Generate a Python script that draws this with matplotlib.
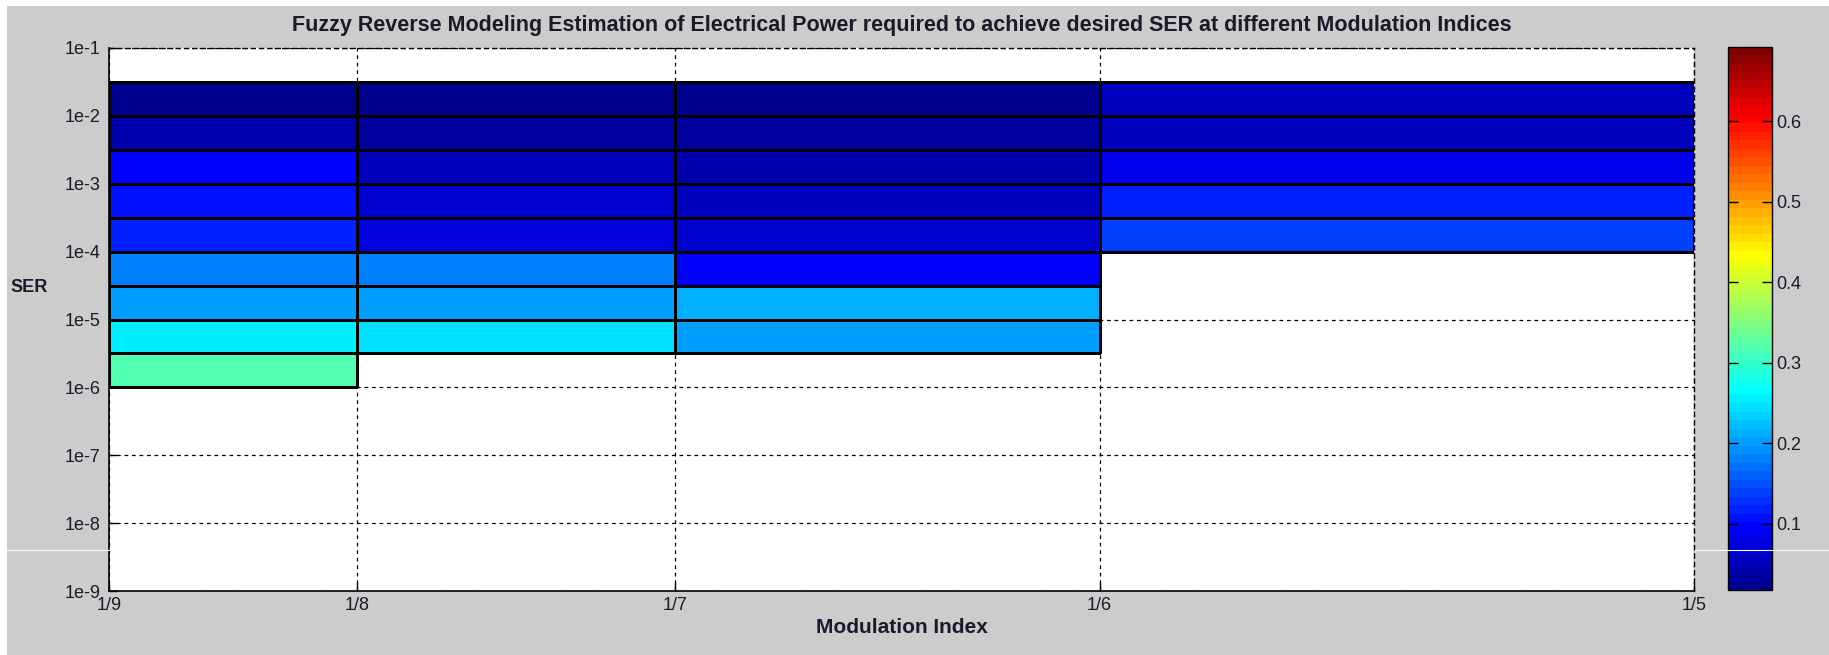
#---------------------------------Librerias------------------------------------
import numpy as np
import matplotlib
matplotlib.use('Agg')
import matplotlib.pyplot as plt
from matplotlib.colors import ListedColormap
from matplotlib.patches import Rectangle
from matplotlib.lines import Line2D
#------------------------------------------------------------------------------

#---------------------------------Datos-----------------------------------------
mi_labels = ['1/9', '1/8', '1/7', '1/6', '1/5']
mi_edges = [1/9, 1/8, 1/7, 1/6, 1/5]
ser_edges = [10**-1.5, 1e-2, 10**-2.5, 1e-3, 10**-3.5, 1e-4,
             10**-4.5, 1e-5, 10**-5.5, 1e-6]
ser_ticks = [1e-1, 1e-2, 1e-3, 1e-4, 1e-5, 1e-6, 1e-7, 1e-8, 1e-9]
ser_labels = ['1e-1', '1e-2', '1e-3', '1e-4', '1e-5', '1e-6', '1e-7', '1e-8', '1e-9']

# potencia electrica estimada por franja de SER (de arriba hacia abajo)
power_mi9 = [0.023, 0.044, 0.097, 0.108, 0.118, 0.181, 0.202, 0.255, 0.318]
power_mi8 = [0.023, 0.034, 0.055, 0.065, 0.076, 0.181, 0.202, 0.244]
power_mi7 = [0.023, 0.034, 0.044, 0.055, 0.065, 0.097, 0.213, 0.202]
power_mi6 = [0.055, 0.055, 0.086, 0.118, 0.139]

c_min, c_max = 0.018, 0.692
cbar_ticks = [0.1, 0.2, 0.3, 0.4, 0.5, 0.6]
#------------------------------------------------------------------------------


#--------------------Mapa de color jet (64 niveles)----------------------------
def jet64(m=64):
    n = int(np.ceil(m/4))
    u = np.concatenate([np.arange(1, n+1)/n, np.ones(n-1), np.arange(n, 0, -1)/n])
    g = int(np.ceil(n/2)) - int(m % 4 == 1) + np.arange(1, len(u)+1)
    r = g + n
    b = g - n
    J = np.zeros((m, 3))
    J[r[r <= m]-1, 0] = u[r <= m]
    J[g[g <= m]-1, 1] = u[g <= m]
    J[b[b >= 1]-1, 2] = u[-np.sum(b >= 1):]
    return ListedColormap(J)
#------------------------------------------------------------------------------

#---------------------------------------Grafica--------------------------------
W, H = 1829, 655
plt.rcParams['font.family'] = ['Liberation Sans', 'DejaVu Sans']
txt = '#1a1a2a'

fig = plt.figure(figsize=(W/100, H/100), dpi=100, facecolor='white')
fig.add_artist(Rectangle((7/W, 0), 1-7/W, 1-6/H, transform=fig.transFigure,
                         facecolor='#cccccc', edgecolor='none', zorder=-5))

ax = fig.add_axes([109/W, 1-591/H, (1694-109)/W, (591-48)/H])
cmap = jet64()

# una columna de celdas por indice de modulacion
columnas = [power_mi9, power_mi8, power_mi7, power_mi6]
for j, col in enumerate(columnas):
    mesh = ax.pcolormesh(mi_edges[j:j+2], ser_edges[:len(col)+1],
                         np.array(col)[:, None], cmap=cmap,
                         vmin=c_min, vmax=c_max, edgecolors='black',
                         linewidth=0.75, shading='flat', zorder=2)

ax.set_yscale('log')
ax.set_xlim(mi_edges[0], mi_edges[-1])
ax.set_ylim(1e-9, 1e-1)
ax.set_xticks(mi_edges)
ax.set_xticklabels(mi_labels)
ax.set_yticks(ser_ticks)
ax.set_yticklabels(ser_labels)
ax.minorticks_off()
ax.set_axisbelow(True)
ax.grid(True, linestyle=(0, (3, 3)), color='black', linewidth=0.9)
ax.tick_params(direction='in', length=6, width=1, labelsize=13,
               labelcolor=txt)
ax.tick_params(axis='x', pad=4)
ax.tick_params(axis='y', pad=6)
for s in ['top', 'right']:
    ax.spines[s].set_linestyle((0, (3, 3)))
    ax.spines[s].set_linewidth(1.0)
for s in ['left', 'bottom']:
    ax.spines[s].set_linewidth(1.2)

ax.set_title('Fuzzy Reverse Modeling Estimation of Electrical Power required to '
             'achieve desired SER at different Modulation Indices',
             fontsize=15.5, fontweight='bold', color=txt, pad=12)
ax.set_xlabel('Modulation Index', fontsize=15, fontweight='bold',
              color=txt, labelpad=3)
fig.text(29/W, 1-287/H, 'SER', fontsize=13, fontweight='bold',
         color=txt, ha='center', va='center')

cax = fig.add_axes([1728/W, 1-590/H, 44/W, (590-47)/H])
cb = fig.colorbar(mesh, cax=cax, ticks=cbar_ticks)
cb.ax.tick_params(direction='in', length=7, width=1, left=True, right=True,
                  labelleft=False, labelright=True, labelsize=13,
                  labelcolor=txt, pad=3)
cb.outline.set_linewidth(1.0)

fig.add_artist(Line2D([7/W, 109/W], [1-550/H]*2, color='white', lw=0.8,
                      transform=fig.transFigure, zorder=5))
fig.add_artist(Line2D([1695/W, 1], [1-550/H]*2, color='white', lw=0.8,
                      transform=fig.transFigure, zorder=5))

plt.savefig('out.png', dpi=100, facecolor=fig.get_facecolor())
#------------------------------------------------------------------------------
